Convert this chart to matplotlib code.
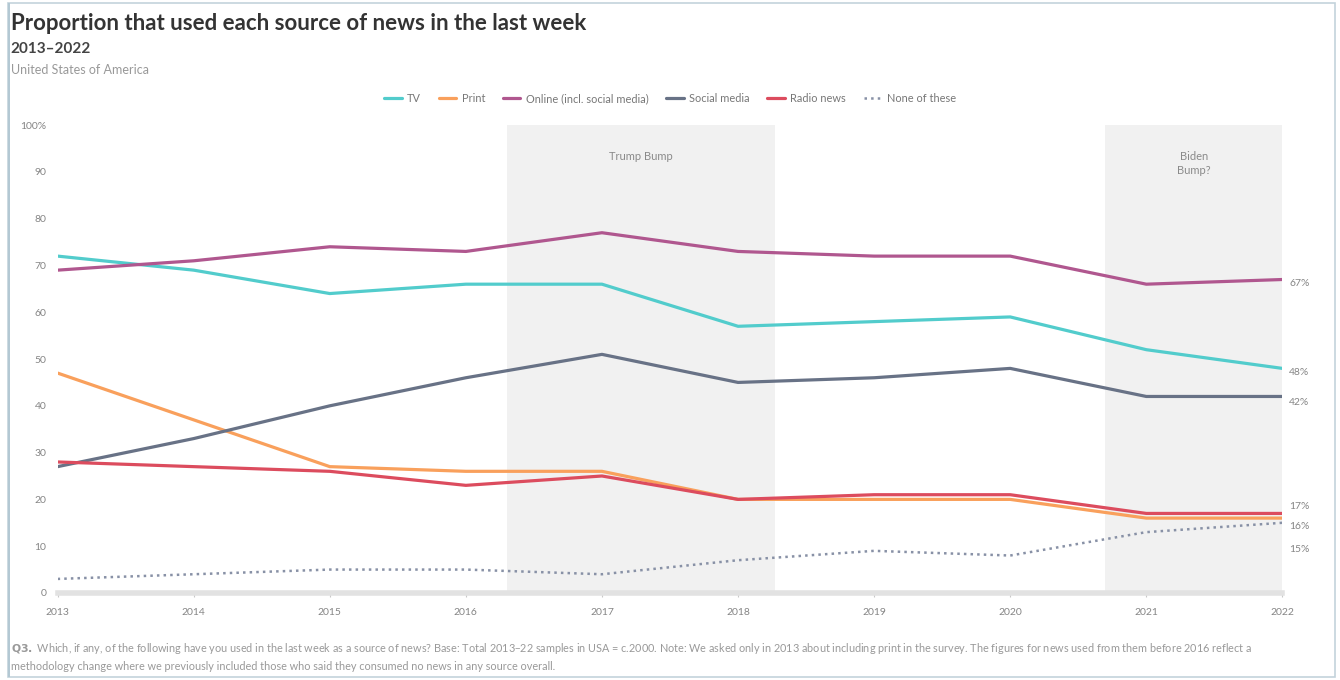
import matplotlib
matplotlib.use("Agg")
import matplotlib.pyplot as plt
from matplotlib.patches import Rectangle

plt.rcParams["font.family"] = ["Lato", "DejaVu Sans"]

# ── data ──────────────────────────────────────────────────────────────────────
years = [2013, 2014, 2015, 2016, 2017, 2018, 2019, 2020, 2021, 2022]
tv = [72, 69, 64, 66, 66, 57, 58, 59, 52, 48]
print_news = [47, 37, 27, 26, 26, 20, 20, 20, 16, 16]
online = [69, 71, 74, 73, 77, 73, 72, 72, 66, 67]
social = [27, 33, 40, 46, 51, 45, 46, 48, 42, 42]
radio = [28, 27, 26, 23, 25, 20, 21, 21, 17, 17]
none_of_these = [3, 4, 5, 5, 4, 7, 9, 8, 13, 15]

series_names = ["TV", "Print", "Online (incl. social media)", "Social media",
                "Radio news", "None of these"]
series_values = [tv, print_news, online, social, radio, none_of_these]

bands = [(2016.3, 2018.27, "Trump Bump"), (2020.7, 2022.0, "Biden\nBump?")]
y_ticks = [0, 10, 20, 30, 40, 50, 60, 70, 80, 90, 100]
y_labels = ["0", "10", "20", "30", "40", "50", "60", "70", "80", "90", "100%"]

# ── styles ────────────────────────────────────────────────────────────────────
colours = ["#52cccc", "#f9a05c", "#b0578f", "#687286", "#dc4c5e", "#8891a6"]
styles = ["-", "-", "-", "-", "-", ":"]
# vertical nudge (points) for end labels so the bottom three do not collide
label_nudge = [-3, -6, -3, -4, 5, -19]

fig = plt.figure(figsize=(13.4, 6.8), dpi=100)
ax = fig.add_axes([0.043, 0.128, 0.914, 0.688])

for x0, x1, txt in bands:
    ax.axvspan(x0, x1, color="#f1f1f1", zorder=0, lw=0)
    ax.text((x0 + x1) / 2, 94.5, txt, ha="center", va="top", fontsize=8,
            color="#8a8a8a", linespacing=1.3)

for name, vals, col, ls, dy in zip(series_names, series_values, colours,
                                   styles, label_nudge):
    ax.plot(years, vals, color=col, lw=2.3 if ls == "-" else 1.8, ls=ls,
            label=name, solid_capstyle="round", zorder=3)
    ax.annotate(f"{vals[-1]}%", (years[-1], vals[-1]), xytext=(5, dy),
                textcoords="offset points", va="center", ha="left",
                fontsize=7.5, color="#858585")

ax.set_xlim(2013, 2022)
ax.set_ylim(0, 100)
ax.set_xticks(years)
ax.set_xticklabels([str(y) for y in years], fontsize=7.5, color="#858585")
ax.set_yticks(y_ticks)
ax.set_yticklabels(y_labels, fontsize=7.5, color="#858585")
ax.tick_params(axis="y", length=0, pad=8)
ax.tick_params(axis="x", length=3, color="#c8c8c8", pad=8)
for side in ["top", "right", "left"]:
    ax.spines[side].set_visible(False)
ax.spines["bottom"].set_color("#e2e2e2")
ax.spines["bottom"].set_linewidth(4)
ax.margins(x=0)

leg = ax.legend(loc="center", bbox_to_anchor=(0.5, 1.057), ncol=6,
                frameon=False, fontsize=7.9, handlelength=1.6,
                columnspacing=1.6, handletextpad=0.5)
for t in leg.get_texts():
    t.set_color("#777777")

fig.text(0.008, 0.965, "Proportion that used each source of news in the last week",
         fontsize=16, fontweight="bold", color="#333333", va="center")
fig.text(0.008, 0.928, "2013\u20132022", fontsize=11, fontweight="bold",
         color="#444444", va="center")
fig.text(0.008, 0.897, "United States of America", fontsize=9,
         color="#999999", va="center")

fig.text(0.008, 0.047,
         r"$\bf{Q3.}$ Which, if any, of the following have you used in the last week "
         "as a source of news? Base: Total 2013\u201322 samples in USA = c.2000. "
         "Note: We asked only in 2013 about including print in the survey. The figures "
         "for news used from them before 2016 reflect a",
         fontsize=7.8, color="#999999", va="center")
fig.text(0.008, 0.020,
         "methodology change where we previously included those who said they "
         "consumed no news in any source overall.",
         fontsize=7.8, color="#999999", va="center")

fig.patches.append(Rectangle((0.006, 0.004), 0.990, 0.991,
                             transform=fig.transFigure, fill=False,
                             edgecolor="#c3d3dc", lw=1.2))
fig.patches.append(Rectangle((0.006, 0.004), 0.0015, 0.991,
                             transform=fig.transFigure, color="#b3c8d3", lw=0))

fig.savefig("out.png", dpi=100, facecolor="white")
plt.close(fig)
